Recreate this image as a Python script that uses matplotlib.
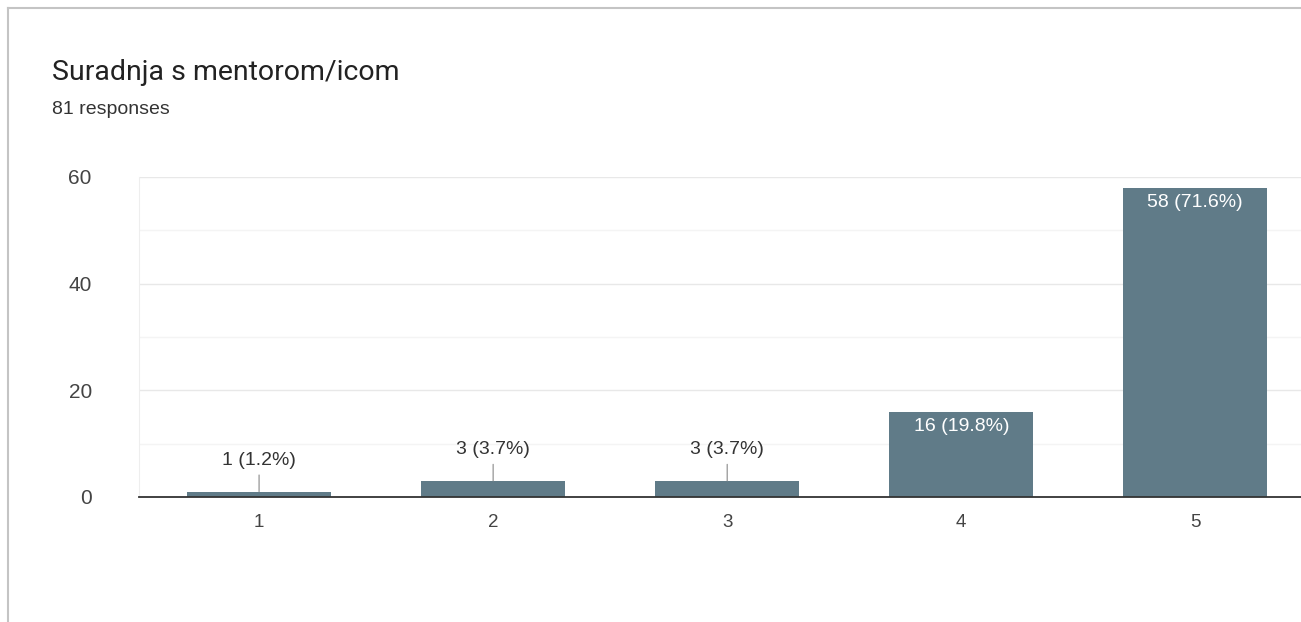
import matplotlib.pyplot as plt
from matplotlib.lines import Line2D

categories = ['1', '2', '3', '4', '5']
counts = [1, 3, 3, 16, 58]
percents = ['1.2%', '3.7%', '3.7%', '19.8%', '71.6%']
title = 'Suradnja s mentorom/icom'
subtitle = '81 responses'

plt.rcParams['font.family'] = ['Roboto', 'DejaVu Sans']
chart_font = ['Liberation Sans', 'DejaVu Sans']

W, H = 1301, 622
fig = plt.figure(figsize=(W / 100, H / 100), dpi=100)

# axes runs past the right edge, like the cropped screenshot
ax = fig.add_axes([139 / W, (H - 497) / H, (1310 - 139) / W, 320 / H])
x = list(range(1, len(counts) + 1))
bar_color = '#607b88'
ax.bar(x, counts, width=0.615, color=bar_color, zorder=3)

ax.set_xlim(0.487, 5.49)
ax.set_ylim(0, 60)
ax.set_yticks([0, 20, 40, 60])
ax.set_yticks([10, 30, 50], minor=True)
ax.set_xticks(x)
ax.set_xticklabels(categories)
ax.grid(axis='y', which='major', color='#e8e8e8', lw=1, zorder=0)
ax.grid(axis='y', which='minor', color='#f4f4f4', lw=1, zorder=0)
ax.tick_params(axis='y', which='both', length=0, pad=34, labelsize=15, labelcolor='#444444')
ax.tick_params(axis='x', length=0, pad=12, labelsize=13.5, labelcolor='#444444')
for lab in ax.get_xticklabels() + ax.get_yticklabels():
    lab.set_family(chart_font)
for s in ['top', 'right']:
    ax.spines[s].set_visible(False)
ax.spines['left'].set_color('#eeeeee')
ax.spines['bottom'].set_color('#333333')
ax.spines['bottom'].set_linewidth(1.3)
ax.spines['bottom'].set_zorder(4)

for xi, c, p in zip(x, counts, percents):
    lab = f'{c} ({p})'
    if c < 10:
        ax.annotate('', xy=(xi, c), xytext=(0, 12), textcoords='offset points',
                    arrowprops=dict(arrowstyle='-', color='#888888', lw=0.8,
                                    shrinkA=0, shrinkB=0))
        ax.annotate(lab, xy=(xi, c), xytext=(0, 22.5), textcoords='offset points',
                    ha='center', va='center', fontsize=14, color='#333333',
                    family=chart_font)
    else:
        ax.annotate(lab, xy=(xi, c), xytext=(0, -11), textcoords='offset points',
                    ha='center', va='center', fontsize=14, color='white',
                    family=chart_font)

fig.text(52 / W, 1 - 73 / H, title, fontsize=20.5, color='#222222', va='center')
fig.text(52 / W, 1 - 110 / H, subtitle, fontsize=14, color='#333333', va='center',
         family=chart_font)

# card border (top and left edges of the screenshot)
fig.add_artist(Line2D([8 / W, 1], [1 - 8 / H, 1 - 8 / H], color='#c4c4c4', lw=1.5))
fig.add_artist(Line2D([8 / W, 8 / W], [0, 1 - 8 / H], color='#c4c4c4', lw=1.5))

fig.savefig('out.png', dpi=100)
